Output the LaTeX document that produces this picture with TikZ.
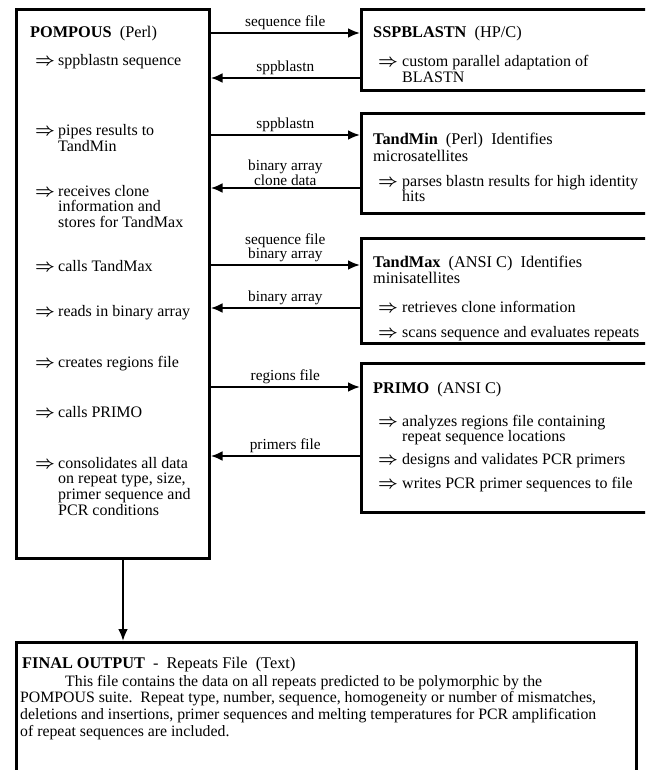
\documentclass[tikz,border=0pt]{standalone}
\usepackage{fontspec}
\setmainfont{Liberation Serif}
\usetikzlibrary{arrows.meta, positioning, calc}

\tikzset{
    box/.style={draw, line width=2.6pt, inner sep=0pt, anchor=north west},
    txt/.style={anchor=base west, inner sep=0pt,
        font=\fontsize{16}{15.5}\selectfont},
    ttl/.style={txt, font=\fontsize{16.3}{16}\selectfont},
    flow/.style={line width=2.6pt, -{Latex[length=12pt, width=10pt]}},
    lbl/.style={above, inner sep=1.5pt, align=center,
        font=\fontsize{15.3}{13}\selectfont}
}
\newcommand{\imp}{{\boldmath$\Rightarrow$}}
\newcommand{\txtlines}[1]{\begin{tabular}[t]{@{}l@{}}#1\end{tabular}}

\begin{document}
\begin{tikzpicture}[x=1pt, y=-1pt]
    \clip (0,0) rectangle (645,770);

    % boxes
    \node[box, minimum width=193pt, minimum height=549pt] (pompous) at (15,8) {};
    \node[box, minimum width=295pt, minimum height=81pt] (blast) at (360,8) {};
    \node[box, minimum width=295pt, minimum height=100pt] (tandmin) at (360,112) {};
    \node[box, minimum width=295pt, minimum height=105pt] (tandmax) at (360,237) {};
    \node[box, minimum width=295pt, minimum height=149pt] (primo) at (360,362) {};
    \node[box, minimum width=620pt, minimum height=140pt] (final) at (15,641) {};

    % POMPOUS
    \node[ttl] (pomT) at (30,38) {\textbf{POMPOUS}\ \ (Perl)};
    \node[txt] (pomA1) at (35,66) {\imp};
    \node[txt] (pom1) at (58,66) {sppblastn sequence};
    \node[txt] (pomA2) at (35,136) {\imp};
    \node[txt] (pom2) at (58,136) {\txtlines{pipes results to\\TandMin}};
    \node[txt] (pomA3) at (35,196) {\imp};
    \node[txt] (pom3) at (58,196) {\txtlines{receives clone\\information and\\stores for TandMax}};
    \node[txt] (pomA4) at (35,271) {\imp};
    \node[txt] (pom4) at (58,271) {calls TandMax};
    \node[txt] (pomA5) at (35,316) {\imp};
    \node[txt] (pom5) at (58,316) {reads in binary array};
    \node[txt] (pomA6) at (35,367) {\imp};
    \node[txt] (pom6) at (58,367) {creates regions file};
    \node[txt] (pomA7) at (35,417) {\imp};
    \node[txt] (pom7) at (58,417) {calls PRIMO};
    \node[txt] (pomA8) at (35,468) {\imp};
    \node[txt] (pom8) at (58,468) {\txtlines{consolidates all data\\on repeat type, size,\\primer sequence and\\PCR conditions}};

    % SSPBLASTN
    \node[ttl] (blastT) at (373,38) {\textbf{SSPBLASTN}\ \ (HP/C)};
    \node[txt] (blastA1) at (378,67) {\imp};
    \node[txt] (blast1) at (402,67) {\txtlines{custom parallel adaptation of\\BLASTN}};

    % TandMin
    \node[ttl] (minT) at (373,145) {\txtlines{\textbf{TandMin}\ \ (Perl)\ \ Identifies\\microsatellites}};
    \node[txt] (minA1) at (378,186) {\imp};
    \node[txt] (min1) at (402,186) {\txtlines{parses blastn results for high identity\\hits}};

    % TandMax
    \node[ttl] (maxT) at (373,267) {\txtlines{\textbf{TandMax}\ \ (ANSI C)\ \ Identifies\\minisatellites}};
    \node[txt] (maxA1) at (378,312) {\imp};
    \node[txt] (max1) at (402,312) {retrieves clone information};
    \node[txt] (maxA2) at (378,337) {\imp};
    \node[txt] (max2) at (402,337) {scans sequence and evaluates repeats};

    % PRIMO
    \node[ttl] (priT) at (373,393) {\textbf{PRIMO}\ \ (ANSI C)};
    \node[txt] (priA1) at (378,426) {\imp};
    \node[txt] (pri1) at (402,426) {\txtlines{analyzes regions file containing\\repeat sequence locations}};
    \node[txt] (priA2) at (378,464) {\imp};
    \node[txt] (pri2) at (402,464) {designs and validates PCR primers};
    \node[txt] (priA3) at (378,488) {\imp};
    \node[txt] (pri3) at (402,488) {writes PCR primer sequences to file};

    % final output
    \node[ttl] (finT) at (22,668) {\textbf{FINAL OUTPUT}\ \ -\ \ Repeats File\ \ (Text)};
    \node[txt, font=\fontsize{15.8}{16.8}\selectfont] (fin1) at (20,686)
        {\txtlines{\hspace*{45pt}This file contains the data on all repeats predicted to be polymorphic by the\\
        POMPOUS suite.\ \ Repeat type, number, sequence, homogeneity or number of mismatches,\\
        deletions and insertions, primer sequences and melting temperatures for PCR amplification\\
        of repeat sequences are included.}};

    % connectors
    \draw[flow] (pompous.east |- 0,33) -- node[lbl] {sequence file} (blast.west |- 0,33);
    \draw[flow] (blast.west |- 0,78) -- node[lbl] {sppblastn} (pompous.east |- 0,78);
    \draw[flow] (pompous.east |- 0,135) -- node[lbl] {sppblastn} (tandmin.west |- 0,135);
    \draw[flow] (tandmin.west |- 0,188) -- node[lbl] {binary array\\clone data} (pompous.east |- 0,188);
    \draw[flow] (pompous.east |- 0,265) -- node[lbl] {sequence file\\binary array} (tandmax.west |- 0,265);
    \draw[flow] (tandmax.west |- 0,308) -- node[lbl] {binary array} (pompous.east |- 0,308);
    \draw[flow] (pompous.east |- 0,387) -- node[lbl] {regions file} (primo.west |- 0,387);
    \draw[flow] (primo.west |- 0,456) -- node[lbl] {primers file} (pompous.east |- 0,456);
    \draw[flow] (pompous.south -| 123,0) -- (final.north -| 123,0);
\end{tikzpicture}
\end{document}
